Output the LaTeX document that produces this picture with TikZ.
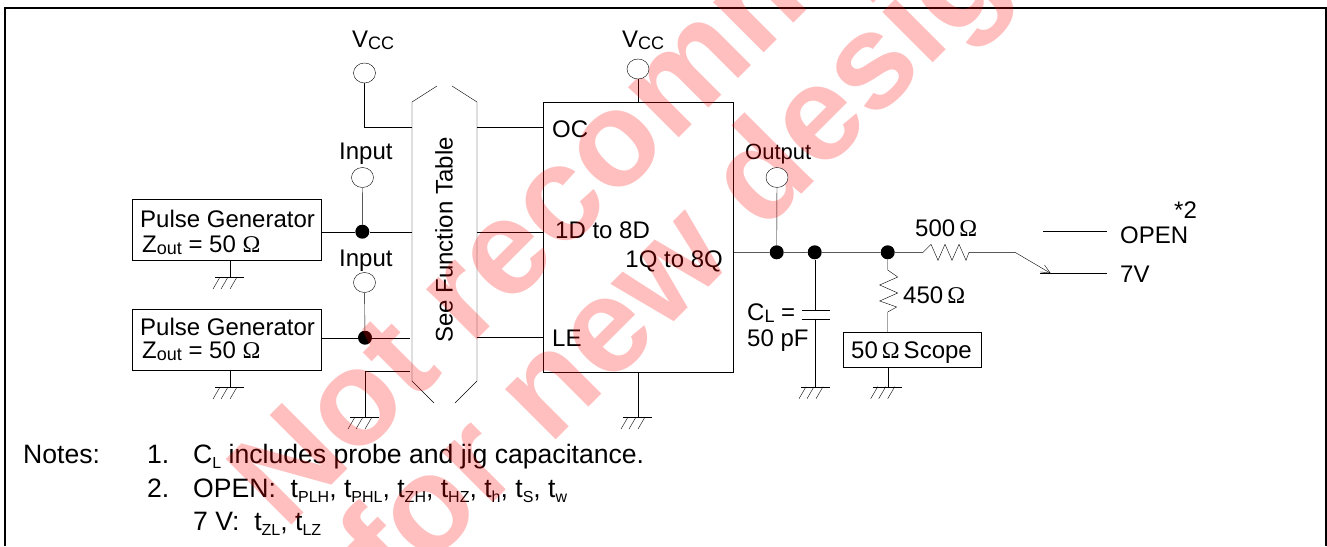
\documentclass[tikz,border=0pt]{standalone}
\usepackage{fontspec}
\setmainfont{Liberation Sans}
\newfontfamily\symfont{Liberation Serif}
\usetikzlibrary{arrows.meta,shapes.geometric}
\pgfdeclarelayer{wmark}
\pgfdeclarelayer{top}
\pgfsetlayers{main,wmark,top}
\newcommand{\ohm}{{\symfont\fontsize{24}{24}\selectfont Ω}}
\newcommand{\low}[1]{{\fontsize{18}{18}\selectfont\raisebox{-2pt}{#1}}}
\newcommand{\dn}[1]{{\fontsize{16}{16}\selectfont\raisebox{-5pt}{#1}}}
\newcommand{\gnd}[1]{
    \draw (#1) ++(-15,0) -- ++(29,0);
    \draw (#1) ++(-10,0) -- ++(-7,12);
    \draw (#1) ++(-2,0) -- ++(-7,12);
    \draw (#1) ++(7,0) -- ++(-7,12);
}
\tikzset{
    txt/.style={font=\fontsize{24}{26}\selectfont,inner sep=0pt,anchor=base west},
    notetxt/.style={txt,font=\fontsize{26.6}{28}\selectfont},
    term/.style={draw,fill=white,ellipse,minimum width=22pt,minimum height=20pt,inner sep=0pt},
    dot/.style={fill=black,circle,minimum size=14pt,inner sep=0pt},
    box/.style={draw,minimum width=#1,inner sep=0pt},
    wm/.style={font=\fontsize{135}{135}\selectfont\bfseries,text=red,text opacity=.25,inner sep=0pt,anchor=base west,rotate=45}
}
\begin{document}
\begin{tikzpicture}[x=1pt,y=-1pt,line width=1pt]
    \useasboundingbox (0,0) rectangle (1327,546);
    \clip (0,0) rectangle (1327,546);
    \draw[line width=2pt] (5,546) -- (5,8) -- (1325.5,8) -- (1325.5,546);
    \begin{pgfonlayer}{wmark}
        \node[wm] (wmA) at (285,532) {Not recommended};
        \node[wm] (wmB) at (396,600) {for new designs};
    \end{pgfonlayer}
    \begin{pgfonlayer}{top}
        \node[term] (vccA) at (364.5,73) {};
        \node[term] (inA) at (362.5,177.5) {};
        \node[term] (inB) at (364.5,282.5) {};
        \node[term] (vccB) at (638,69) {};
        \node[term] (outT) at (777,177.5) {};
    \end{pgfonlayer}
    \node[txt] (vccAt) at (352,47) {V\low{CC}};
    \node[txt] (vccBt) at (622,47) {V\low{CC}};
    \node[txt] (inAt) at (339,159) {Input};
    \node[txt] (inBt) at (339,266) {Input};
    \node[txt,font=\fontsize{22}{24}\selectfont] (outt) at (745,159) {Output};
    \node[box=189pt,minimum height=61pt] (pgA) at (226.5,229.5) {};
    \node[box=189pt,minimum height=61pt] (pgB) at (226.5,339.5) {};
    \node[box=190pt,minimum height=270pt] (ic) at (638,237) {};
    \node[box=138pt,minimum height=35pt] (sc) at (912,349.5) {};
    \node[txt] (pgAa) at (140,227) {Pulse Generator};
    \node[txt] (pgAb) at (142,252) {Z\low{out} = 50 \ohm};
    \node[txt] (pgBa) at (140,335) {Pulse Generator};
    \node[txt] (pgBb) at (142,358) {Z\low{out} = 50 \ohm};
    \node[txt,anchor=center,rotate=90] (ft) at (444,240) {See Function Table};
    \node[txt] (oc) at (552,137) {OC};
    \node[txt] (dd) at (555,238) {1D to 8D};
    \node[txt,anchor=base east] (qq) at (723,267) {1Q to 8Q};
    \node[txt] (le) at (552,346) {LE};
    \node[txt] (cla) at (747,320) {C\low{L} =};
    \node[txt] (clb) at (747,346) {50 pF};
    \node[txt] (ra) at (915,236) {500\,\ohm};
    \node[txt] (rb) at (903,303) {450\,\ohm};
    \node[txt] (sct) at (851,358) {50\,\ohm\,Scope};
    \node[txt] (op) at (1120,243) {OPEN};
    \node[txt] (sv) at (1120,282) {7V};
    \node[txt] (st) at (1174,218) {*2};
    \node[notetxt] (nt) at (23,463) {Notes:};
    \node[notetxt] (nA) at (147,463) {1.};
    \node[notetxt] (nAt) at (193,463) {C\dn{L} includes probe and jig capacitance.};
    \node[notetxt] (nB) at (147,497) {2.};
    \node[notetxt] (nBt) at (193,497) {OPEN:\ \ t\dn{PLH}, t\dn{PHL}, t\dn{ZH}, t\dn{HZ}, t\dn{h}, t\dn{S}, t\dn{w}};
    \node[notetxt] (nCt) at (193,530) {7 V:\ \ t\dn{ZL}, t\dn{LZ}};
    \node[dot] (dA) at (362.3,231.7) {};
    \node[dot] (dB) at (365,337.7) {};
    \node[dot] (dC) at (776.7,252.3) {};
    \node[dot] (dD) at (814.7,252.3) {};
    \node[dot] (dE) at (887.7,252.3) {};
    \coordinate (hxL) at (412,240);
    \coordinate (hxR) at (477,240);
    \coordinate (gA) at (230,277);
    \coordinate (gB) at (230,387);
    \coordinate (gC) at (365,417);
    \coordinate (gD) at (638,417);
    \coordinate (gE) at (816,386.7);
    \coordinate (gF) at (887.7,386.7);
    \coordinate (cA) at (814.7,310);
    \coordinate (cB) at (814.7,318.7);
    \coordinate (sw) at (1015,252.3);
    \coordinate (swT) at (1050.7,273.3);
    \draw (412,102) -- (437,86);
    \draw (477,102) -- (452,86);
    \draw (412,102) -- (412,381) -- (434,403);
    \draw (477,102) -- (477,381) -- (455,403);
    \draw (vccA) |- (hxL |- 0,127.5);
    \draw (inA) -- (dA);
    \draw (inB) -- (dB);
    \draw (pgA.east |- dA) -- (dA) -- (hxL |- dA);
    \draw (pgB.east |- dB) -- (dB) -- (410,337.7);
    \draw (410,370.7) -| (gC);
    \draw (pgA.south -| gA) -- (gA);
    \draw (pgB.south -| gB) -- (gB);
    \draw (hxR |- 0,127) -- (ic.west |- 0,127);
    \draw (hxR |- dA) -- (ic.west |- dA);
    \draw (hxR |- 0,337.5) -- (ic.west |- 0,337.5);
    \draw (vccB) -- (ic.north -| vccB);
    \draw (ic.south) -- (gD);
    \draw (outT) -- (dC);
    \draw (ic.east |- dC) -- (dC) -- (dD) -- (dE) -- (923,252.3) -- ++(8,-8) -- ++(7,16) -- ++(7,-16) -- ++(7,16) -- ++(7,-16) -- ++(7,16) -- ++(3,-8) -- (sw);
    \draw[-{Straight Barb[length=9pt,width=8pt]}] (sw) -- (swT);
    \draw (1040,273.3) -- (1107,273.3);
    \draw (1043,231) -- (1107,231);
    \draw (dD) -- (cA);
    \draw (cB) -- (dD |- gE);
    \draw ([xshift=-13pt]cA) -- ([xshift=15pt]cA);
    \draw ([xshift=-13pt]cB) -- ([xshift=15pt]cB);
    \draw (dE) -- (887.7,270) -- ++(10,7) -- ++(-18,8) -- ++(18,8) -- ++(-18,8) -- ++(17,6) -- ++(-9,5) -- (sc.north -| dE);
    \draw (sc.south -| gF) -- (gF);
    \gnd{gA}
    \gnd{gB}
    \gnd{gC}
    \gnd{gD}
    \gnd{gE}
    \gnd{gF}
\end{tikzpicture}
\end{document}
